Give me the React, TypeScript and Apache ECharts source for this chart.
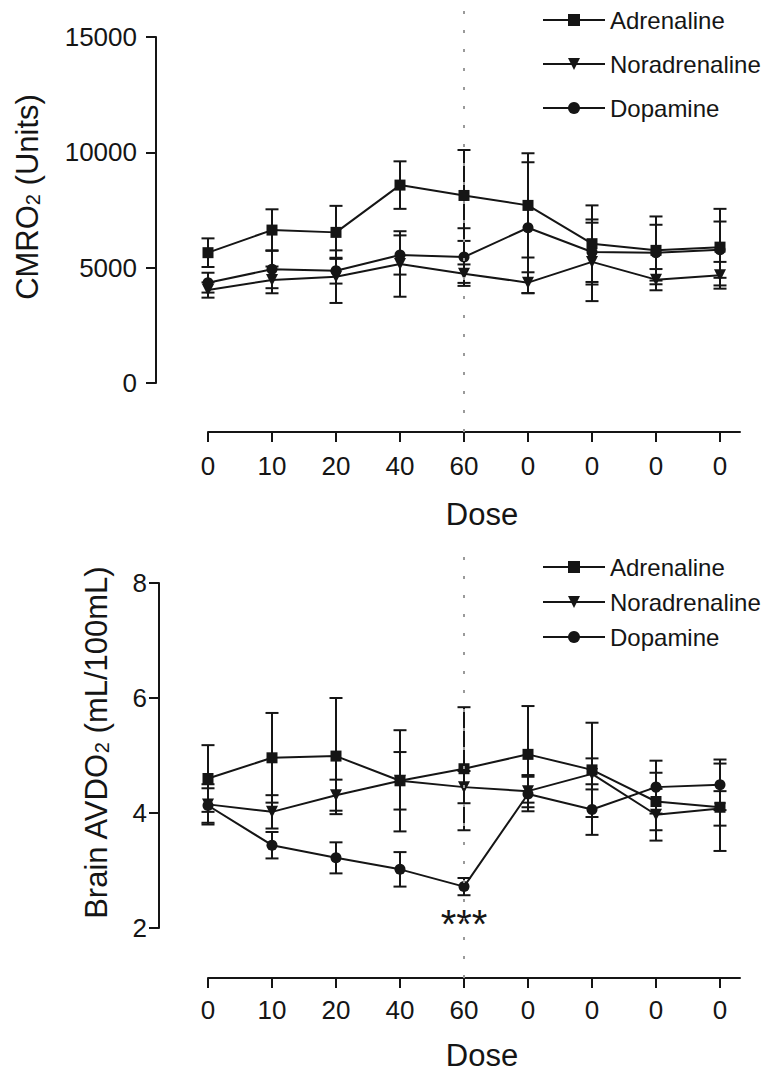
import React, { useEffect, useRef } from "react";
import * as echarts from "echarts";

// ---------- data ----------
const doseLabels = ["0", "10", "20", "40", "60", "0", "0", "0", "0"];
const seriesNames = ["Adrenaline", "Noradrenaline", "Dopamine"];

// CMRO2 (Units)
const cmroAdrenaline = [5650, 6630, 6530, 8580, 8130, 7700, 6040, 5750, 5890];
const cmroAdrenalineErr = [620, 900, 1150, 1030, 1970, 2260, 1660, 1470, 1660];
const cmroNoradrenaline = [4030, 4470, 4610, 5160, 4740, 4350, 5250, 4480, 4670];
const cmroNoradrenalineErr = [330, 580, 1140, 1420, 400, 450, 1700, 460, 580];
const cmroDopamine = [4350, 4930, 4870, 5550, 5460, 6730, 5680, 5650, 5780];
const cmroDopamineErr = [430, 820, 560, 850, 1250, 2840, 1410, 1210, 1220];

// Brain AVDO2 (mL/100mL)
const avdoAdrenaline = [4.6, 4.96, 4.99, 4.56, 4.77, 5.02, 4.75, 4.2, 4.1];
const avdoAdrenalineErr = [0.58, 0.78, 1.01, 0.88, 1.07, 0.84, 0.82, 0.5, 0.76];
const avdoNoradrenaline = [4.15, 4.02, 4.31, 4.56, 4.45, 4.38, 4.68, 3.97, 4.08];
const avdoNoradrenalineErr = [0.35, 0.29, 0.27, 0.5, 0.28, 0.28, 0.27, 0.45, 0.3];
const avdoDopamine = [4.13, 3.44, 3.22, 3.02, 2.72, 4.33, 4.06, 4.45, 4.49];
const avdoDopamineErr = [0.3, 0.23, 0.27, 0.3, 0.15, 0.3, 0.44, 0.46, 0.44];

const cmroTicks = { min: 0, max: 15000, interval: 5000 };
const avdoTicks = { min: 2, max: 8, interval: 2 };
const significantIndex = 4;
const significantLabel = "***";

// ---------- layout ----------
const FONT = "'Liberation Sans', Arial, Helvetica, sans-serif";
const INK = "#151515";
const X0 = 208; // first category
const STEP = 64;
const XEND = 740;

const TOP = { gridTop: 5, axisY: 432, pxMax: 37, pxMin: 383, yAxisX: 156 };
const BOT = { gridTop: 545, axisY: 978, pxMax: 583, pxMin: 928, yAxisX: 159 };

function hiddenExtent(p: any, t: any) {
  const ppu = (p.pxMin - p.pxMax) / (t.max - t.min);
  return {
    min: t.min - (p.axisY - p.pxMin) / ppu,
    max: t.max + (p.pxMax - p.gridTop) / ppu,
  };
}

const symbols = [
  { symbol: "rect", size: 11, rotate: 0 },
  { symbol: "triangle", size: 12, rotate: 180 },
  { symbol: "circle", size: 11, rotate: 0 },
];

function errorSeries(name: string, vals: number[], errs: number[], idx: number) {
  return {
    type: "custom",
    name: "err-" + name,
    xAxisIndex: idx,
    yAxisIndex: idx,
    silent: true,
    z: 1,
    encode: { x: 0, y: 1 },
    data: vals.map((v, i) => [i, v, errs[i]]),
    renderItem: (params: any, api: any) => {
      const x = api.value(0);
      const m = api.value(1);
      const e = api.value(2);
      const t = api.coord([x, m + e]);
      const b = api.coord([x, m - e]);
      const cw = 6.5;
      const st = { stroke: INK, lineWidth: 2 };
      return {
        type: "group",
        children: [
          { type: "line", shape: { x1: t[0], y1: t[1], x2: b[0], y2: b[1] }, style: st },
          { type: "line", shape: { x1: t[0] - cw, y1: t[1], x2: t[0] + cw, y2: t[1] }, style: st },
          { type: "line", shape: { x1: b[0] - cw, y1: b[1], x2: b[0] + cw, y2: b[1] }, style: st },
        ],
      };
    },
  };
}

function lineSeries(name: string, vals: number[], k: number, idx: number, extra?: any) {
  const s = symbols[k];
  const data: any[] = vals.map((v, i) => [i, v]);
  if (extra) extra(data);
  return {
    type: "line",
    name,
    xAxisIndex: idx,
    yAxisIndex: idx,
    z: 3,
    symbol: s.symbol,
    symbolSize: s.size,
    symbolRotate: s.rotate,
    showAllSymbol: true,
    lineStyle: { color: INK, width: 2 },
    itemStyle: { color: INK, borderWidth: 0 },
    data,
  };
}

const dashLine = {
  symbol: "none",
  silent: true,
  label: { show: false },
  lineStyle: { color: "#9a9a9a", type: [3, 16], width: 2 },
  data: [{ xAxis: significantIndex }],
};

function dataXAxis(gridIndex: number, margin: number) {
  const vals = doseLabels.map((_, i) => i);
  return {
    type: "value",
    gridIndex,
    min: 0,
    max: (XEND - X0) / STEP,
    interval: 1,
    axisLine: { show: true, onZero: false, lineStyle: { color: INK, width: 2 } },
    axisTick: { show: true, length: 10, customValues: vals, lineStyle: { color: INK, width: 2 } },
    axisLabel: {
      customValues: vals,
      formatter: (v: number) => doseLabels[Math.round(v)] ?? "",
      fontSize: 26,
      fontFamily: FONT,
      color: INK,
      margin,
    },
    splitLine: { show: false },
  };
}

function visibleYAxis(gridIndex: number, t: any, margin: number) {
  return {
    type: "value",
    gridIndex,
    min: t.min,
    max: t.max,
    interval: t.interval,
    axisLine: { show: true, onZero: false, lineStyle: { color: INK, width: 2 } },
    axisTick: { show: true, length: 10, lineStyle: { color: INK, width: 2 } },
    axisLabel: {
      formatter: (v: number) => String(v),
      fontSize: 26,
      fontFamily: FONT,
      color: INK,
      margin,
    },
    splitLine: { show: false },
  };
}

function titleText(x: number, y: number, main: string, sub: string, rest: string) {
  return {
    type: "text",
    x,
    y,
    rotation: Math.PI / 2,
    style: {
      text: `{a|${main}}{s|${sub}}{a|${rest}}`,
      rich: {
        a: { fontSize: 31, fontFamily: FONT, fill: INK },
        s: { fontSize: 20, fontFamily: FONT, fill: INK, padding: [12, 0, 0, 0] },
      },
      align: "center",
      verticalAlign: "middle",
    },
  };
}

function legendAt(top: number, gap: number) {
  return {
    data: seriesNames,
    orient: "vertical",
    left: 537,
    top,
    itemWidth: 62,
    itemHeight: 15,
    itemGap: gap,
    selectedMode: false,
    textStyle: { fontSize: 24, fontFamily: FONT, color: INK },
  };
}

export default function App() {
  const ref = useRef<HTMLDivElement>(null);
  useEffect(() => {
    document.body.style.margin = "0";
    if (!ref.current) return;
    const chart = echarts.init(ref.current, undefined, { renderer: "svg" });
    const topExt = hiddenExtent(TOP, cmroTicks);
    const botExt = hiddenExtent(BOT, avdoTicks);

    const option: any = {
      animation: false,
      backgroundColor: "#ffffff",
      grid: [
        { left: X0, top: TOP.gridTop, width: XEND - X0, height: TOP.axisY - TOP.gridTop },
        { left: TOP.yAxisX, top: TOP.pxMax, width: 20, height: TOP.pxMin - TOP.pxMax },
        { left: X0, top: BOT.gridTop, width: XEND - X0, height: BOT.axisY - BOT.gridTop },
        { left: BOT.yAxisX, top: BOT.pxMax, width: 20, height: BOT.pxMin - BOT.pxMax },
      ],
      xAxis: [
        dataXAxis(0, 21),
        { type: "value", gridIndex: 1, show: false, min: 0, max: 1 },
        dataXAxis(2, 19),
        { type: "value", gridIndex: 3, show: false, min: 0, max: 1 },
      ],
      yAxis: [
        { type: "value", gridIndex: 0, show: false, min: topExt.min, max: topExt.max, splitLine: { show: false } },
        visibleYAxis(1, cmroTicks, 19),
        { type: "value", gridIndex: 2, show: false, min: botExt.min, max: botExt.max, splitLine: { show: false } },
        visibleYAxis(3, avdoTicks, 12),
      ],
      legend: [legendAt(3, 20), legendAt(550, 11)],
      series: [
        errorSeries(seriesNames[0], cmroAdrenaline, cmroAdrenalineErr, 0),
        errorSeries(seriesNames[1], cmroNoradrenaline, cmroNoradrenalineErr, 0),
        errorSeries(seriesNames[2], cmroDopamine, cmroDopamineErr, 0),
        { ...lineSeries(seriesNames[0], cmroAdrenaline, 0, 0), markLine: dashLine },
        lineSeries(seriesNames[1], cmroNoradrenaline, 1, 0),
        lineSeries(seriesNames[2], cmroDopamine, 2, 0),
        errorSeries(seriesNames[0], avdoAdrenaline, avdoAdrenalineErr, 2),
        errorSeries(seriesNames[1], avdoNoradrenaline, avdoNoradrenalineErr, 2),
        errorSeries(seriesNames[2], avdoDopamine, avdoDopamineErr, 2),
        { ...lineSeries(seriesNames[0], avdoAdrenaline, 0, 2), markLine: dashLine },
        lineSeries(seriesNames[1], avdoNoradrenaline, 1, 2),
        lineSeries(seriesNames[2], avdoDopamine, 2, 2, (data: any[]) => {
          data[significantIndex] = {
            value: data[significantIndex],
            label: {
              show: true,
              position: "bottom",
              distance: 12,
              formatter: significantLabel,
              fontSize: 40,
              fontFamily: FONT,
              color: INK,
            },
          };
        }),
      ],
      graphic: [
        titleText(27, 197, "CMRO", "2", " (Units)"),
        titleText(96, 743, "Brain AVDO", "2", " (mL/100mL)"),
        {
          type: "text",
          x: 482,
          y: 514,
          style: { text: "Dose", fontSize: 31, fontFamily: FONT, fill: INK, align: "center", verticalAlign: "middle" },
        },
        {
          type: "text",
          x: 482,
          y: 1055,
          style: { text: "Dose", fontSize: 31, fontFamily: FONT, fill: INK, align: "center", verticalAlign: "middle" },
        },
      ],
    };
    chart.setOption(option);
    return () => chart.dispose();
  }, []);
  return <div ref={ref} style={{ width: 765, height: 1071 }} />;
}
